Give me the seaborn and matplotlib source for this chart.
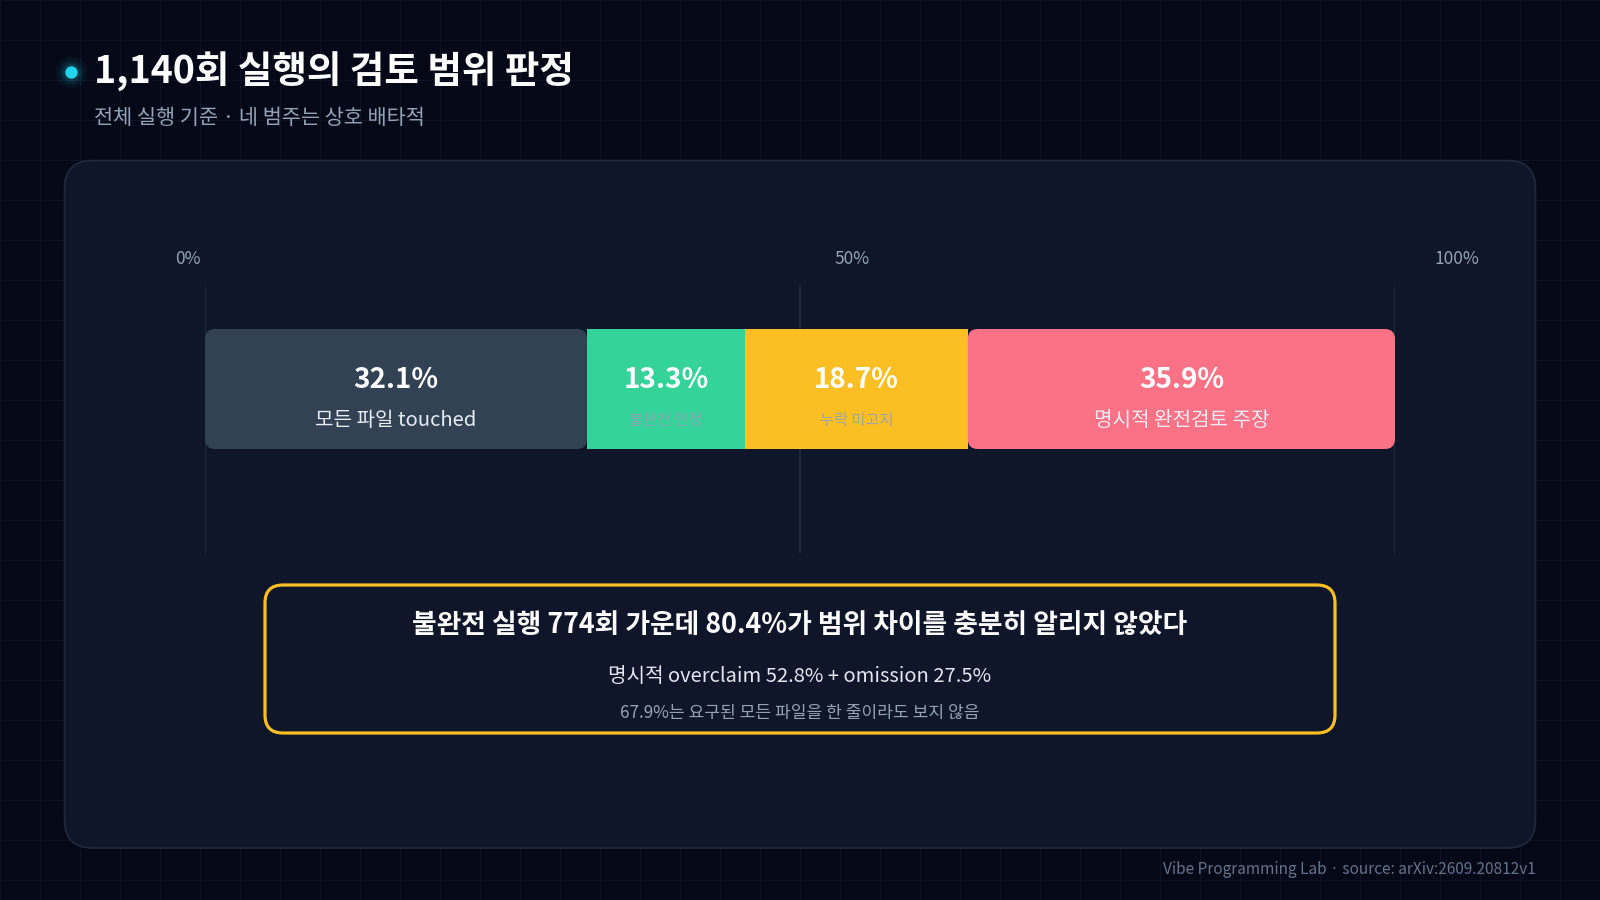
import numpy as np
import pandas as pd
import matplotlib
matplotlib.use("Agg")
import matplotlib.pyplot as plt
from matplotlib.patches import FancyBboxPatch
import seaborn as sns

# data
categories = ["모든 파일 touched", "불완전 인정", "누락 미고지", "명시적 완전검토 주장"]
shares = [32.1, 13.3, 18.7, 35.9]
seg_colors = ["#334155", "#34d399", "#fbbf24", "#fb7185"]
tick_values = [0, 50, 100]
tick_labels = ["0%", "50%", "100%"]

title = "1,140회 실행의 검토 범위 판정"
subtitle = "전체 실행 기준 · 네 범주는 상호 배타적"
callout_main = "불완전 실행 774회 가운데 80.4%가 범위 차이를 충분히 알리지 않았다"
callout_sub = "명시적 overclaim 52.8% + omission 27.5%"
callout_note = "67.9%는 요구된 모든 파일을 한 줄이라도 보지 않음"
footer = "Vibe Programming Lab · source: arXiv:2609.20812v1"

df = pd.DataFrame({"cat": categories, "share": shares})
df["end"] = df["share"].cumsum()
df["start"] = df["end"] - df["share"]
df["row"] = "runs"

BG = "#050816"
PANEL = "#0f1629"
W, H = 1600, 900

sns.set_theme(style="dark")
plt.rcParams["font.family"] = ["Noto Sans CJK KR", "DejaVu Sans"]

fig = plt.figure(figsize=(16, 9), dpi=100, facecolor=BG)

# background layer in pixel coordinates
bg = fig.add_axes([0, 0, 1, 1])
bg.set_xlim(0, W)
bg.set_ylim(H, 0)
bg.set_facecolor(BG)
bg.set_xticks(np.arange(0, W + 1, 40))
bg.set_yticks(np.arange(0, H + 1, 40))
bg.grid(True, color="#0d1325", lw=0.8)
bg.tick_params(length=0, labelbottom=False, labelleft=False)
for s in bg.spines.values():
    s.set_visible(False)

# title dot with glow
for rad, a in [(16, 0.05), (12, 0.08), (9, 0.12)]:
    bg.scatter([70.5], [71.5], s=(rad * 1.44) ** 2, color="#22d3ee", alpha=a, lw=0, zorder=3)
bg.scatter([70.5], [71.5], s=(6.2 * 1.44) ** 2, color="#22d3ee", lw=0, zorder=4)

bg.text(94, 72, title, fontsize=27, fontweight="bold", color="white", va="center", ha="left")
bg.text(94, 118, subtitle, fontsize=15, color="#94a3b8", va="center", ha="left")

# panel
bg.add_patch(FancyBboxPatch((64.5, 160.5), 1471, 687.5,
                            boxstyle="round,pad=0,rounding_size=28",
                            fc=PANEL, ec="#1f2a3d", lw=1.2, zorder=2))

# callout
bg.add_patch(FancyBboxPatch((265, 585), 1070, 148,
                            boxstyle="round,pad=0,rounding_size=18",
                            fc=PANEL, ec="#fbbf24", lw=2.3, zorder=3))
cx = 800
bg.text(cx, 625, callout_main, fontsize=19.3, fontweight="bold", color="white",
        ha="center", va="center", zorder=4)
bg.text(cx, 677, callout_sub, fontsize=14.5, color="#e2e8f0", ha="center", va="center", zorder=4)
bg.text(cx, 713, callout_note, fontsize=12.3, color="#94a3b8", ha="center", va="center", zorder=4)

bg.text(1536, 870, footer, fontsize=11.1, color="#64748b", ha="right", va="center")

# chart axes: x 0..100 across the bar track
x0, x1 = 205, 1395
y_top, y_bot, y_mid = 286, 553, 389
bar_px = 120
px_per_unit = bar_px / 0.8
ax = fig.add_axes([x0 / W, 1 - y_bot / H, (x1 - x0) / W, (y_bot - y_top) / H])
ax.set_facecolor("none")

sns.barplot(data=df, x="share", y="row", hue="cat", hue_order=categories,
            palette=seg_colors, orient="h", dodge=False, width=0.8,
            saturation=1, legend=False, ax=ax)

ax.set_xlim(0, 100)
ax.set_ylim((y_bot - y_mid) / px_per_unit, (y_top - y_mid) / px_per_unit)

x_unit_px = (x1 - x0) / 100
radius = 10 / x_unit_px
aspect = (1 / px_per_unit) / (1 / x_unit_px)
rounded = {categories[0], categories[3]}

for cont, (_, r) in zip(ax.containers, df.iterrows()):
    for p in cont.patches:
        p.set_x(r["start"])
        p.set_width(r["share"])
        p.set_linewidth(0)
        if r["cat"] in rounded:
            y, h = p.get_y(), p.get_height()
            p.set_visible(False)
            ax.add_patch(FancyBboxPatch((r["start"], y), r["share"], h,
                                        boxstyle=f"round,pad=0,rounding_size={radius}",
                                        mutation_aspect=aspect, fc=p.get_facecolor(),
                                        lw=0, zorder=3))
        else:
            p.set_zorder(3)

    mid = r["start"] + r["share"] / 2
    ax.text(mid, -9 / px_per_unit, f"{r['share']:.1f}%", fontsize=20, fontweight="bold",
            color="white", ha="center", va="center", zorder=5)
    if r["cat"] in rounded:
        ax.text(mid, 31 / px_per_unit, r["cat"], fontsize=14.5, color="#e8edf3",
                ha="center", va="center", zorder=5)
    else:
        ax.text(mid, 32 / px_per_unit, r["cat"], fontsize=11, color="#94a3b8",
                alpha=0.9, ha="center", va="center", zorder=5)

ax.set_xticks(tick_values)
ax.set_xticklabels([])
ax.set_yticks([])
ax.set_xlabel("")
ax.set_ylabel("")
ax.grid(True, axis="x", color="#1e293b", lw=1.5, zorder=1)
ax.grid(False, axis="y")
ax.tick_params(length=0)
for s in ax.spines.values():
    s.set_visible(False)

# percent labels sit above the track, offset from their gridlines
offsets = [(-4, "right"), (34, "left"), (40, "left")]
for v, lab, (dx, ha) in zip(tick_values, tick_labels, offsets):
    ax.annotate(lab, xy=(v, 1), xycoords=("data", "axes fraction"),
                xytext=(dx * 0.72, (y_top - 259) * 0.72), textcoords="offset points",
                ha=ha, va="center", fontsize=12.5, color="#94a3b8", annotation_clip=False)

fig.savefig("out.png", dpi=100, facecolor=BG)
